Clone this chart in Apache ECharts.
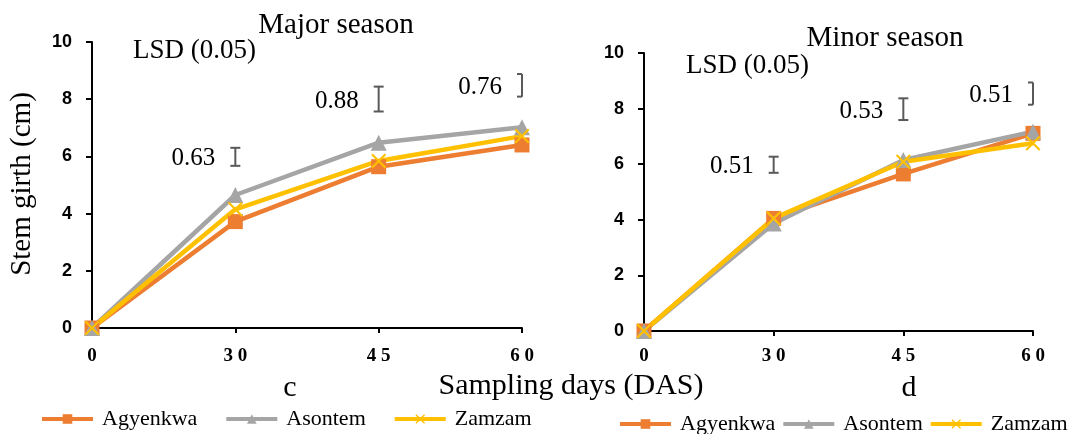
<!DOCTYPE html>
<html lang="en">
<head>
    <meta charset="UTF-8">
    <title>Stem girth</title>
    <script type="text/javascript" src="https://cdn.jsdelivr.net/npm/echarts@6/dist/echarts.min.js"></script>
    <style>
        html, body { margin: 0; padding: 0; background: #fff; }
        #main { width: 1077px; height: 434px; }
    </style>
</head>
<body>
<div id="main"></div>
<script>
    // sampling days (category axis)
    var days = ['0', '30', '45', '60'];
    var yTicks = [0, 2, 4, 6, 8, 10];

    // major season
    var majorAgyenkwa = [0, 3.72, 5.64, 6.40];
    var majorAsontem = [0, 4.65, 6.48, 7.02];
    var majorZamzam = [0, 4.15, 5.84, 6.71];

    // minor season
    var minorAgyenkwa = [0, 4.05, 5.65, 7.11];
    var minorAsontem = [0, 3.87, 6.15, 7.17];
    var minorZamzam = [0, 4.05, 6.09, 6.75];

    // LSD (0.05) bars
    var lsdDays = ['30', '45', '60'];
    var majorLsd = ['0.63', '0.88', '0.76'];
    var majorLsdTop = [6.30, 8.44, 8.88];
    var majorLsdBottom = [5.67, 7.57, 8.09];
    var minorLsd = ['0.51', '0.53', '0.51'];
    var minorLsdTop = [6.27, 8.37, 8.94];
    var minorLsdBottom = [5.69, 7.59, 8.14];

    var serif = '"Liberation Serif", "Times New Roman", serif';
    var colors = {Agyenkwa: '#ED7D31', Asontem: '#A5A5A5', Zamzam: '#FFC000'};
    var crossPath = 'path://M2,0 L10,8 L18,0 L20,2 L12,10 L20,18 L18,20 L10,12 L2,20 L0,18 L8,10 L0,2 Z';

    var chart = echarts.init(document.getElementById('main'));

    function xAxisOf(idx, margin) {
        return {
            type: 'category', gridIndex: idx, data: days, boundaryGap: false,
            axisLine: {lineStyle: {color: '#000', width: 2}},
            axisTick: {show: true, length: 5, lineStyle: {color: '#000', width: 2}},
            axisLabel: {
                color: '#000', fontFamily: serif, fontWeight: 'bold', fontSize: 19, margin: margin,
                formatter: function (v) { return v.split('').join(' '); }
            },
            splitLine: {show: false}
        };
    }

    function yAxisOf(idx) {
        return {
            type: 'value', gridIndex: idx, min: yTicks[0], max: yTicks[yTicks.length - 1], interval: 2,
            axisLine: {show: true, lineStyle: {color: '#000', width: 2}},
            axisTick: {show: true, length: 6, lineStyle: {color: '#000', width: 2}},
            axisLabel: {color: '#000', fontFamily: '"Liberation Sans", Arial, sans-serif', fontWeight: 'bold', fontSize: 18, margin: 20},
            splitLine: {show: false}
        };
    }

    function lineSeries(name, data, idx, symbol, size) {
        return {
            type: 'line', name: name, data: data, xAxisIndex: idx, yAxisIndex: idx,
            symbol: symbol, symbolSize: size, showAllSymbol: true,
            lineStyle: {color: colors[name], width: 4.5},
            itemStyle: {color: colors[name]}
        };
    }

    function lsdSeries(idx, labels, top, bottom) {
        var data = [];
        for (var i = 0; i < lsdDays.length; i++) {
            data.push([lsdDays[i], top[i], bottom[i]]);
        }
        return {
            type: 'custom', xAxisIndex: idx, yAxisIndex: idx, data: data, silent: true, z: 5,
            renderItem: function (params, api) {
                var p1 = api.coord([api.value(0), api.value(1)]);
                var p2 = api.coord([api.value(0), api.value(2)]);
                var cs = params.coordSys;
                var right = cs.x + cs.width;
                var cx = p1[0];
                var w = 5;
                var st = {stroke: '#595959', lineWidth: 2};
                return {
                    type: 'group',
                    children: [
                        {type: 'line', shape: {x1: cx, y1: p1[1], x2: cx, y2: p2[1]}, style: st},
                        {type: 'line', shape: {x1: cx - w, y1: p1[1], x2: Math.min(cx + w, right), y2: p1[1]}, style: st},
                        {type: 'line', shape: {x1: cx - w, y1: p2[1], x2: Math.min(cx + w, right), y2: p2[1]}, style: st},
                        {type: 'text', x: cx - 20, y: (p1[1] + p2[1]) / 2 + 2,
                            style: {text: labels[params.dataIndex], font: '25px ' + serif, fill: '#000', align: 'right', verticalAlign: 'middle'}}
                    ]
                };
            }
        };
    }

    function txt(text, x, y, size, align, rot) {
        return {
            type: 'text', x: x, y: y, rotation: rot || 0,
            style: {text: text, font: size + 'px ' + serif, fill: '#000', align: align || 'left', verticalAlign: 'middle'}
        };
    }

    var legendBase = {
        data: ['Agyenkwa', 'Asontem', 'Zamzam'],
        itemWidth: 51, itemHeight: 12, padding: 0,
        lineStyle: {width: 4},
        textStyle: {fontFamily: serif, fontSize: 22, color: '#000', padding: [0, 0, 0, 4]}
    };

    var option = {
        animation: false,
        grid: [
            {left: 92, top: 42, width: 430, height: 286},
            {left: 644, top: 53, width: 389, height: 278}
        ],
        xAxis: [xAxisOf(0, 19), xAxisOf(1, 16)],
        yAxis: [yAxisOf(0), yAxisOf(1)],
        legend: [
            Object.assign({left: 40, top: 408, itemGap: 27}, legendBase),
            Object.assign({left: 618, top: 413, itemGap: 6, width: 459}, legendBase)
        ],
        graphic: [
            txt('Major season', 336, 25, 29, 'center'),
            txt('Minor season', 885, 38, 29, 'center'),
            txt('LSD (0.05)', 133, 51, 27),
            txt('LSD (0.05)', 686, 66, 27),
            txt('Stem girth (cm)', 22, 184, 29, 'center', Math.PI / 2),
            txt('Sampling days (DAS)', 571, 386, 30, 'center'),
            txt('c', 290, 388, 30, 'center'),
            txt('d', 909, 388, 30, 'center')
        ],
        series: [
            lineSeries('Agyenkwa', majorAgyenkwa, 0, 'rect', 15),
            lineSeries('Asontem', majorAsontem, 0, 'triangle', 16),
            lineSeries('Zamzam', majorZamzam, 0, crossPath, 15),
            lineSeries('Agyenkwa', minorAgyenkwa, 1, 'rect', 15),
            lineSeries('Asontem', minorAsontem, 1, 'triangle', 16),
            lineSeries('Zamzam', minorZamzam, 1, crossPath, 15),
            lsdSeries(0, majorLsd, majorLsdTop, majorLsdBottom),
            lsdSeries(1, minorLsd, minorLsdTop, minorLsdBottom)
        ]
    };

    chart.setOption(option);
    window.addEventListener('resize', function () {
        chart.resize();
    });
</script>
</body>
</html>
